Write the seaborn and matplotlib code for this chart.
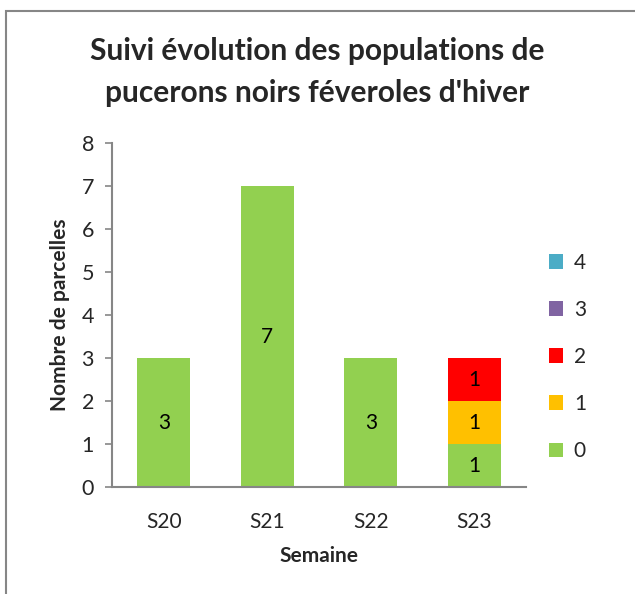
import pandas as pd
import matplotlib
matplotlib.use('Agg')
import matplotlib.pyplot as plt
import matplotlib.patches as mpatches
import seaborn as sns

# Data
semaines = ['S20', 'S21', 'S22', 'S23']
niveaux = ['0', '1', '2', '3', '4']
n0 = [3, 7, 3, 1]
n1 = [0, 0, 0, 1]
n2 = [0, 0, 0, 1]
n3 = [0, 0, 0, 0]
n4 = [0, 0, 0, 0]
couleurs = ['#92D050', '#FFC000', '#FF0000', '#8064A2', '#4BACC6']

data = pd.DataFrame({'Semaine': semaines, '0': n0, '1': n1, '2': n2, '3': n3, '4': n4})

sns.set_style('white')
plt.rcParams['font.family'] = ['Lato', 'DejaVu Sans']

fig = plt.figure(figsize=(6.35, 5.94), dpi=100)
ax = fig.add_axes([0.1764, 0.1801, 0.6519, 0.5792])

# Stacked bars
bottom = [0, 0, 0, 0]
for niv, col in zip(niveaux, couleurs):
    sns.barplot(data=data, x='Semaine', y=niv, color=col, width=0.51,
                bottom=bottom, label=niv, ax=ax, saturation=1, linewidth=0)
    bottom = [b + v for b, v in zip(bottom, data[niv])]

for cont in ax.containers:
    labels = [f'{int(b.get_height())}' if b.get_height() > 0 else '' for b in cont]
    ax.bar_label(cont, labels=labels, label_type='center', fontsize=15, color='black')

ax.set_ylim(0, 8)
ax.set_xlim(-0.5, 3.5)
ax.set_yticks(range(0, 9))
ax.tick_params(axis='y', length=5, width=1.2, color='#868686', labelsize=15.5, pad=8, left=True)
ax.tick_params(axis='x', length=0, labelsize=15, pad=18)
for s in ['top', 'right']:
    ax.spines[s].set_visible(False)
for s in ['left', 'bottom']:
    ax.spines[s].set_color('#868686')
    ax.spines[s].set_linewidth(1.5)

ax.set_xlabel('Semaine', fontsize=15, fontweight='bold', labelpad=10)
ax.set_ylabel('Nombre de parcelles', fontsize=15, fontweight='bold', labelpad=8)

fig.suptitle("Suivi évolution des populations de\npucerons noirs féveroles d'hiver",
             fontsize=21.5, fontweight='bold', y=0.937, linespacing=1.6)

# Legend: reversed order
handles, labels = ax.get_legend_handles_labels()
ax.legend(handles[::-1], labels[::-1], loc='center left', bbox_to_anchor=(1.03, 0.378),
          frameon=False, fontsize=15, handlelength=0.7, handleheight=0.7,
          handletextpad=0.5, labelspacing=1.3, borderpad=0)

# Outer chart frame
fig.patches.append(mpatches.Rectangle((0.0094, -0.1), 1.2, 0.9815 + 0.1,
                                      transform=fig.transFigure, fill=False,
                                      edgecolor='#868686', linewidth=1.5))

fig.savefig('out.png', dpi=100)
